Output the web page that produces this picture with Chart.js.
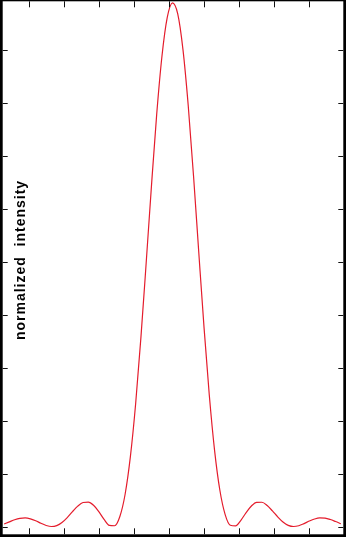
<!DOCTYPE html>
<html><head><meta charset="utf-8">
<script src="https://cdn.jsdelivr.net/npm/chart.js@4"></script>
<style>html,body{margin:0;padding:0;background:#fff;overflow:hidden}#wrap{width:346px;height:537px}</style>
</head><body><div id="wrap"><canvas id="c" width="346" height="537"></canvas></div>
<script>
// angular position (tick units) of each sample
const xValues = [-4.70,-4.55,-4.40,-4.25,-4.10,-3.95,-3.80,-3.65,-3.50,-3.35,-3.20,-3.05,-2.90,-2.75,-2.60,-2.45,-2.30,-2.15,-2.00,-1.85,-1.70,-1.55,-1.40,-1.25,-1.10,-0.95,-0.80,-0.65,-0.50,-0.35,-0.20,-0.05,0.10,0.25,0.40,0.55,0.70,0.85,1.00,1.15,1.30,1.45,1.60,1.75,1.90,2.05,2.20,2.35,2.50,2.65,2.80,2.95,3.10,3.25,3.40,3.55,3.70,3.85,4.00,4.15,4.30,4.45,4.60,4.75,4.90];
// normalized intensity
const intensity = [0.0048,0.0088,0.0128,0.0155,0.0163,0.0146,0.0109,0.0062,0.0020,0.0000,0.0017,0.0075,0.0169,0.0281,0.0386,0.0454,0.0462,0.0401,0.0280,0.0135,0.0022,0.0015,0.019,0.061,0.132,0.232,0.357,0.498,0.643,0.779,0.889,0.962,0.990,0.969,0.901,0.795,0.663,0.518,0.376,0.248,0.144,0.069,0.023,0.0025,0.0014,0.0118,0.0262,0.0388,0.0458,0.0459,0.0397,0.0295,0.0182,0.0085,0.0022,0.0000,0.0015,0.0055,0.0103,0.0142,0.0162,0.0158,0.0132,0.0094,0.0053];
const xTicks = [-4,-3,-2,-1,0,1,2,3,4];
const yTicks = [0,0.1,0.2,0.3,0.4,0.5,0.6,0.7,0.8,0.9];
const yTitle = 'normalized  intensity';

const points = xValues.map((x,i)=>({x:x,y:intensity[i]}));

const framePlugin = {
  id:'frame',
  afterDraw(chart){
    const ctx = chart.ctx, ca = chart.chartArea;
    const W = chart.width, H = chart.height;
    const xs = chart.scales.x, ys = chart.scales.y;
    ctx.save();
    ctx.fillStyle = '#000';
    ctx.fillRect(0,0,ca.left,H);
    ctx.fillRect(ca.right,0,W-ca.right,H);
    ctx.fillRect(0,0,W,ca.top);
    ctx.fillRect(0,ca.bottom,W,H-ca.bottom);
    ctx.strokeStyle = '#111';
    ctx.lineWidth = 1;
    ctx.beginPath();
    xTicks.forEach(v=>{
      const p = Math.round(xs.getPixelForValue(v))+0.5;
      ctx.moveTo(p,ca.bottom); ctx.lineTo(p,ca.bottom-6);
      ctx.moveTo(p,ca.top); ctx.lineTo(p,ca.top+6);
    });
    yTicks.forEach(v=>{
      const p = Math.round(ys.getPixelForValue(v))+0.5;
      ctx.moveTo(ca.left,p); ctx.lineTo(ca.left+5,p);
      ctx.moveTo(ca.right,p); ctx.lineTo(ca.right-5,p);
    });
    ctx.stroke();
    ctx.translate(25,260);
    ctx.rotate(-Math.PI/2);
    ctx.fillStyle = '#000';
    ctx.font = 'bold 14px "Liberation Sans", Arial, sans-serif';
    try{ ctx.letterSpacing = '1px'; }catch(e){}
    ctx.textAlign = 'center';
    ctx.textBaseline = 'alphabetic';
    ctx.fillText(yTitle,0,0);
    ctx.restore();
  }
};

new Chart(document.getElementById('c'),{
  type:'line',
  data:{datasets:[{data:points,borderColor:'rgb(228,28,44)',borderWidth:1.2,pointRadius:0,cubicInterpolationMode:'monotone',fill:false}]},
  options:{
    responsive:false,animation:false,
    layout:{padding:{left:2.7,right:2.7,top:1.3,bottom:2.7}},
    plugins:{legend:{display:false},tooltip:{enabled:false}},
    scales:{
      x:{type:'linear',min:-4.74,max:4.97,display:false},
      y:{type:'linear',min:-0.0147,max:0.9928,display:false}
    }
  },
  plugins:[framePlugin]
});
</script></body></html>
